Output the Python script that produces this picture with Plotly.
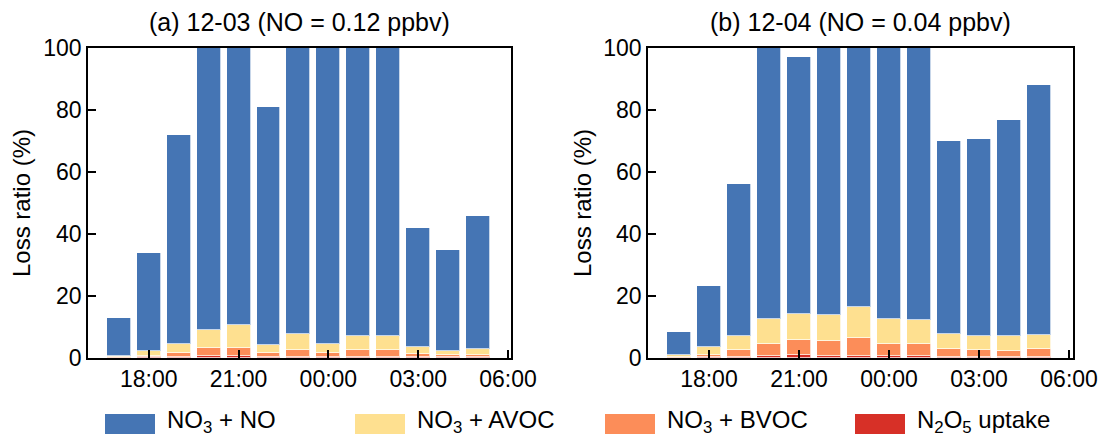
import plotly.graph_objects as go

# ---- data ----
hours = [17, 18, 19, 20, 21, 22, 23, 24, 25, 26, 27, 28, 29]
tick_vals = [18, 21, 24, 27, 30]
tick_text = ["18:00", "21:00", "00:00", "03:00", "06:00"]

series_names = ["N<sub>2</sub>O<sub>5</sub> uptake", "NO<sub>3</sub> + BVOC",
                "NO<sub>3</sub> + AVOC", "NO<sub>3</sub> + NO"]
colors = ["#d73027", "#fc8d59", "#fee090", "#4575b4"]

# panel (a) 12-03
n2o5_a = [0.1, 0.2, 0.3, 0.5, 0.6, 0.3, 0.4, 0.3, 0.4, 0.4, 0.2, 0.2, 0.2]
bvoc_a = [0.2, 0.3, 1.2, 2.6, 2.7, 1.3, 2.1, 1.4, 2.2, 2.2, 1.1, 0.8, 0.8]
avoc_a = [0.4, 1.6, 3.0, 5.8, 7.2, 2.7, 5.3, 2.8, 4.4, 4.6, 2.3, 1.1, 1.8]
no_a = [12.1, 31.9, 67.5, 91.1, 89.5, 76.7, 92.2, 95.5, 93.0, 92.8, 38.4, 32.9, 43.0]

# panel (b) 12-04
n2o5_b = [0.1, 0.2, 0.3, 0.6, 1.0, 0.6, 0.6, 0.5, 0.5, 0.3, 0.3, 0.3, 0.3]
bvoc_b = [0.2, 0.7, 2.2, 4.0, 4.7, 4.9, 5.8, 4.1, 4.1, 2.6, 2.2, 2.0, 2.6]
avoc_b = [0.7, 2.8, 4.5, 7.9, 8.6, 8.5, 10.1, 7.9, 7.5, 5.0, 4.5, 4.7, 4.6]
no_b = [7.4, 19.6, 49.0, 87.5, 82.8, 86.0, 83.5, 87.5, 87.9, 62.1, 63.5, 69.7, 80.5]

titles = ["(a) 12-03 (NO = 0.12 ppbv)", "(b) 12-04 (NO = 0.04 ppbv)"]

# page body has an 8 px margin; the figure is sized to fit the window exactly
OFF = 8
W, H = 1106 - OFF, 438 - OFF
FONT = "Liberation Sans, Arial, sans-serif"

fig = go.Figure()
panels = [(n2o5_a, bvoc_a, avoc_a, no_a), (n2o5_b, bvoc_b, avoc_b, no_b)]
for p, data in enumerate(panels):
    xa = "x" if p == 0 else "x2"
    ya = "y" if p == 0 else "y2"
    for vals, name, col in zip(data, series_names, colors):
        fig.add_trace(go.Bar(
            x=hours, y=vals, name=name, width=0.8,
            marker=dict(color=col, line=dict(color="rgba(255,255,255,0.7)", width=1)),
            xaxis=xa, yaxis=ya, showlegend=False))

def px_x(v):
    return (v - OFF) / W

def px_y(v):
    return 1 - (v - OFF) / H

axis_common = dict(showline=True, linecolor="black", linewidth=1.5, mirror=True,
                   ticks="inside", ticklen=8, tickwidth=1.5, tickcolor="black",
                   showgrid=False, zeroline=False, automargin=False,
                   tickfont=dict(family=FONT, size=23, color="black"))

fig.update_layout(
    width=W, height=H, barmode="stack", bargap=0,
    plot_bgcolor="white", paper_bgcolor="white",
    margin=dict(l=0, r=0, t=0, b=0, autoexpand=False),
    font=dict(family=FONT, color="black"),
    xaxis=dict(domain=[px_x(88), px_x(511)], range=[15.97, 30.1],
               tickvals=tick_vals, ticktext=tick_text, anchor="y", **axis_common),
    yaxis=dict(domain=[px_y(358), px_y(48)], range=[0, 100],
               tickvals=[0, 20, 40, 60, 80, 100], anchor="x", **axis_common),
    xaxis2=dict(domain=[px_x(648), px_x(1073)], range=[15.97, 30.13],
                tickvals=tick_vals, ticktext=tick_text, anchor="y2", **axis_common),
    yaxis2=dict(domain=[px_y(358), px_y(48)], range=[0, 100],
                tickvals=[0, 20, 40, 60, 80, 100], anchor="x2", **axis_common),
)

ann = []
# panel titles
for cx, t in zip([299.5, 860.5], titles):
    ann.append(dict(x=px_x(cx), y=px_y(22), xref="paper", yref="paper", text=t,
                    showarrow=False, xanchor="center", yanchor="middle",
                    font=dict(family=FONT, size=25, color="black")))
# y-axis titles
for cx in [22, 583]:
    ann.append(dict(x=px_x(cx), y=px_y(203), xref="paper", yref="paper",
                    text="Loss ratio (%)", textangle=-90, showarrow=False,
                    xanchor="center", yanchor="middle",
                    font=dict(family=FONT, size=24, color="black")))

# custom legend
shapes = []
legend_order = [3, 2, 1, 0]
legend_x = [105, 355, 605, 855]
for lx, idx in zip(legend_x, legend_order):
    shapes.append(dict(type="rect", xref="paper", yref="paper",
                       x0=px_x(lx), x1=px_x(lx + 50), y0=px_y(434), y1=px_y(414),
                       fillcolor=colors[idx], line=dict(width=0)))
    ann.append(dict(x=px_x(lx + 60), y=px_y(421), xref="paper", yref="paper",
                    text=series_names[idx], showarrow=False,
                    xanchor="left", yanchor="middle",
                    font=dict(family=FONT, size=24, color="black")))

fig.update_layout(annotations=ann, shapes=shapes)
fig.write_html("out.html")
